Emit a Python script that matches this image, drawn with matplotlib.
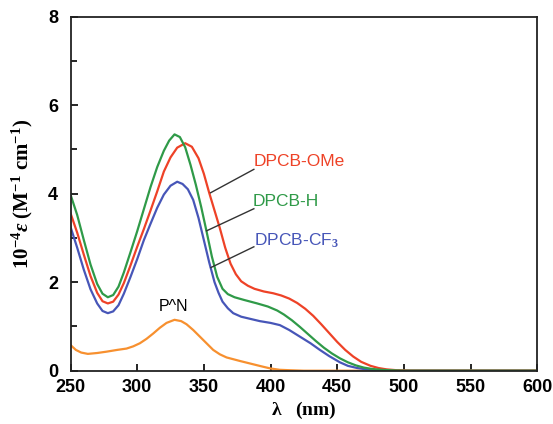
import numpy as np
import matplotlib.pyplot as plt

plt.rcParams['mathtext.fontset'] = 'custom'
plt.rcParams['mathtext.rm'] = 'Liberation Serif:bold'
plt.rcParams['mathtext.it'] = 'Liberation Serif:italic:bold'
plt.rcParams['mathtext.bf'] = 'Liberation Serif:bold'

# absorption spectra (wavelength nm, 10^-4 eps)
wl_h = [250, 255, 260, 265, 270, 274, 278, 282, 286, 290, 295, 300, 305, 310,
        315, 320, 324, 328, 332, 336, 340, 344, 348, 352, 356, 360, 364, 368,
        373, 380, 390, 398, 405, 410, 416, 422, 428, 434, 440, 446, 452, 458,
        464, 470, 476, 483, 490, 500, 600]
eps_h = [3.98, 3.52, 2.95, 2.4, 1.96, 1.74, 1.66, 1.71, 1.9, 2.22, 2.68, 3.15,
         3.65, 4.15, 4.6, 4.97, 5.2, 5.34, 5.28, 5.05, 4.65, 4.2, 3.7, 3.15,
         2.58, 2.12, 1.85, 1.73, 1.66, 1.6, 1.52, 1.45, 1.36, 1.27, 1.14, 0.99,
         0.83, 0.67, 0.52, 0.39, 0.28, 0.19, 0.12, 0.07, 0.04, 0.02, 0.01, 0.0,
         0.0]

wl_ome = [250, 255, 260, 265, 270, 274, 278, 282, 286, 290, 295, 300, 305, 310,
          315, 320, 325, 330, 336, 341, 346, 350, 354, 358, 362, 366, 370, 374,
          378, 383, 388, 395, 402, 408, 414, 420, 426, 432, 438, 444, 450, 456,
          462, 468, 475, 481, 487, 495, 505, 600]
eps_ome = [3.56, 3.12, 2.62, 2.14, 1.76, 1.57, 1.52, 1.56, 1.72, 1.98, 2.38,
           2.8, 3.2, 3.62, 4.05, 4.5, 4.82, 5.04, 5.14, 5.06, 4.8, 4.45, 4.02,
           3.62, 3.22, 2.78, 2.42, 2.18, 2.02, 1.92, 1.85, 1.79, 1.75, 1.7, 1.63,
           1.53, 1.4, 1.24, 1.05, 0.85, 0.65, 0.47, 0.32, 0.2, 0.11, 0.06, 0.03,
           0.01, 0.0, 0.0]

wl_cf3 = [250, 255, 260, 265, 270, 274, 278, 282, 286, 290, 295, 300, 305, 310,
          315, 320, 325, 330, 334, 338, 342, 346, 350, 354, 358, 361, 364, 368,
          372, 378, 385, 392, 400, 407, 414, 422, 430, 437, 444, 452, 458, 465,
          472, 480, 490, 600]
eps_cf3 = [3.25, 2.78, 2.28, 1.84, 1.52, 1.35, 1.3, 1.34, 1.48, 1.74, 2.12,
           2.52, 2.95, 3.32, 3.68, 3.98, 4.18, 4.27, 4.22, 4.1, 3.86, 3.45,
           2.95, 2.45, 2.0, 1.76, 1.56, 1.41, 1.3, 1.22, 1.17, 1.12, 1.08, 1.03,
           0.92, 0.77, 0.62, 0.47, 0.33, 0.19, 0.11, 0.06, 0.03, 0.01, 0.0, 0.0]

wl_pn = [250, 254, 258, 263, 270, 277, 285, 292, 297, 302, 307, 312, 317, 322,
         328, 333, 337, 342, 347, 352, 357, 362, 367, 372, 377, 385, 393, 400,
         407, 415, 425, 600]
eps_pn = [0.58, 0.47, 0.41, 0.38, 0.4, 0.43, 0.47, 0.5, 0.55, 0.62, 0.72, 0.84,
          0.97, 1.08, 1.15, 1.12, 1.05, 0.92, 0.77, 0.62, 0.47, 0.37, 0.3, 0.26,
          0.22, 0.16, 0.1, 0.05, 0.02, 0.01, 0.0, 0.0]

red = '#ee4227'
green = '#2f9a48'
blue = '#4756b8'
orange = '#f7902f'

fig = plt.figure(figsize=(5.53, 4.24), dpi=100)
ax = fig.add_axes([0.1275, 0.1257, 0.844, 0.835])

ax.plot(wl_pn, eps_pn, color=orange, lw=1.6)
ax.plot(wl_cf3, eps_cf3, color=blue, lw=1.6)
ax.plot(wl_ome, eps_ome, color=red, lw=1.6)
ax.plot(wl_h, eps_h, color=green, lw=1.6)

# leader lines + labels
ax.plot([355, 387.5], [4.02, 4.55], color='#333333', lw=1)
ax.plot([352, 387.5], [3.16, 3.66], color='#333333', lw=1)
ax.plot([355.2, 387.5], [2.33, 2.8], color='#333333', lw=1)
ax.text(387.3, 4.72, 'DPCB-OMe', color=red, fontsize=12.5, va='center',
        family='Liberation Sans')
ax.text(386.8, 3.82, 'DPCB-H', color=green, fontsize=12.5, va='center',
        family='Liberation Sans')
ax.text(387.3, 2.93, 'DPCB-CF$_3$', color=blue, fontsize=12.5, va='center',
        family='Liberation Sans')
ax.text(327, 1.45, 'P^N', color='black', fontsize=11.5, ha='center',
        va='center', family='Liberation Sans')

ax.set_xlim(250, 600)
ax.set_ylim(0, 8)
ax.set_xticks(np.arange(250, 601, 50))
ax.set_yticks([0, 2, 4, 6, 8])
ax.set_yticks([1, 3, 5, 7], minor=True)
ax.tick_params(direction='in', length=5, width=1.2, top=False, right=False,
               labelsize=13)
ax.tick_params(axis='x', pad=6)
ax.tick_params(axis='y', pad=9)
ax.tick_params(which='minor', direction='in', length=4, width=1.2)
for lab in ax.get_xticklabels() + ax.get_yticklabels():
    lab.set_fontfamily('Liberation Sans')
    lab.set_fontweight('bold')
for s in ax.spines.values():
    s.set_linewidth(1.3)
    s.set_color('#222222')

ax.set_xlabel(r'$\mathregular{\lambda}$   (nm)', fontsize=14,
              family='Liberation Serif', fontweight='bold', labelpad=3)
ax.set_ylabel(r'10$^{-4}$$ε$ (M$^{-1}$ cm$^{-1}$)', fontsize=15,
              family='Liberation Serif', fontweight='bold', labelpad=9)

fig.savefig('out.png', dpi=100)
